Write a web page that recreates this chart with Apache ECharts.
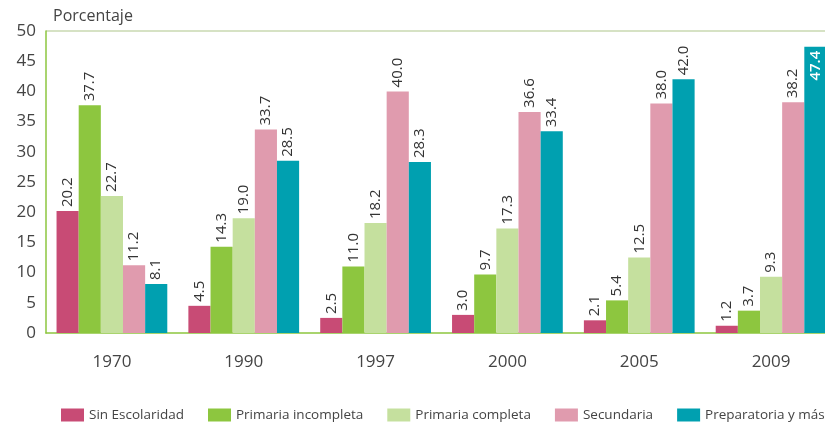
<!DOCTYPE html>
<html>
<head>
<meta charset="utf-8">
<script src="https://cdn.jsdelivr.net/npm/echarts@6/dist/echarts.min.js"></script>
<style>
  html, body { margin: 0; padding: 0; background: #fff; }
  #chart { width: 825px; height: 425px; }
</style>
</head>
<body>
<div id="chart"></div>
<script>
const years = ['1970', '1990', '1997', '2000', '2005', '2009']
const seriesNames = ['Sin Escolaridad', 'Primaria incompleta', 'Primaria completa', 'Secundaria', 'Preparatoria y más']
const sinEscolaridad = [20.2, 4.5, 2.5, 3.0, 2.1, 1.2]
const primariaIncompleta = [37.7, 14.3, 11.0, 9.7, 5.4, 3.7]
const primariaCompleta = [22.7, 19.0, 18.2, 17.3, 12.5, 9.3]
const secundaria = [11.2, 33.7, 40.0, 36.6, 38.0, 38.2]
const preparatoria = [8.1, 28.5, 28.3, 33.4, 42.0, 47.4]
const colors = ['#c84b75', '#8dc63f', '#c5e09e', '#e09bae', '#00a0b0']

const font = 'Open Sans'
const allValues = [sinEscolaridad, primariaIncompleta, primariaCompleta, secundaria, preparatoria]

let chart = echarts.init(document.getElementById('chart'))

// labels sit above the bar, read bottom-to-top; a bar too tall gets its label inside
function makeData(values) {
  return values.map(function (v) {
    if (v > 45) {
      return {
        value: v,
        label: { position: 'insideTop', align: 'right', color: '#fff', fontWeight: '600', distance: 4 }
      }
    }
    return v
  })
}

chart.setOption({
  animation: false,
  textStyle: { fontFamily: font },
  title: {
    text: 'Porcentaje',
    left: 48,
    top: 3,
    textStyle: { fontFamily: font, fontSize: 16, fontWeight: 'normal', color: '#444' }
  },
  legend: {
    data: seriesNames,
    bottom: 3,
    left: 61,
    width: 800,
    padding: 0,
    itemWidth: 23,
    itemHeight: 13,
    itemGap: 24,
    icon: 'rect',
    textStyle: { fontFamily: font, fontSize: 13.5, color: '#444' }
  },
  grid: { left: 46, top: 31, width: 791, height: 302, outerBoundsMode: 'none', containLabel: false },
  xAxis: {
    type: 'category',
    data: years,
    axisLine: { lineStyle: { color: '#8dc63f', width: 1.5 } },
    axisTick: { show: false },
    axisLabel: { fontFamily: font, fontSize: 17, color: '#444', margin: 21 }
  },
  yAxis: {
    type: 'value',
    min: 0,
    max: 50,
    interval: 5,
    axisLine: { show: true, lineStyle: { color: '#8dc63f', width: 1.5 } },
    axisTick: { show: false },
    axisLabel: { fontFamily: font, fontSize: 17, color: '#444', margin: 10 },
    splitLine: {
      show: true,
      lineStyle: { color: ['transparent', 'transparent', 'transparent', 'transparent', 'transparent', 'transparent', 'transparent', 'transparent', 'transparent', 'transparent', '#c8d8b0'], width: 1.5 }
    }
  },
  series: seriesNames.map(function (name, i) {
    return {
      name: name,
      type: 'bar',
      data: makeData(allValues[i]),
      barGap: '0%',
      barCategoryGap: '16%',
      itemStyle: { color: colors[i] },
      label: {
        show: true,
        position: 'top',
        rotate: 90,
        align: 'left',
        verticalAlign: 'middle',
        distance: 4,
        fontFamily: font,
        fontSize: 15,
        color: '#333',
        formatter: function (p) { return p.value.toFixed(1) }
      }
    }
  })
})
window.onresize = chart.resize
</script>
</body>
</html>
